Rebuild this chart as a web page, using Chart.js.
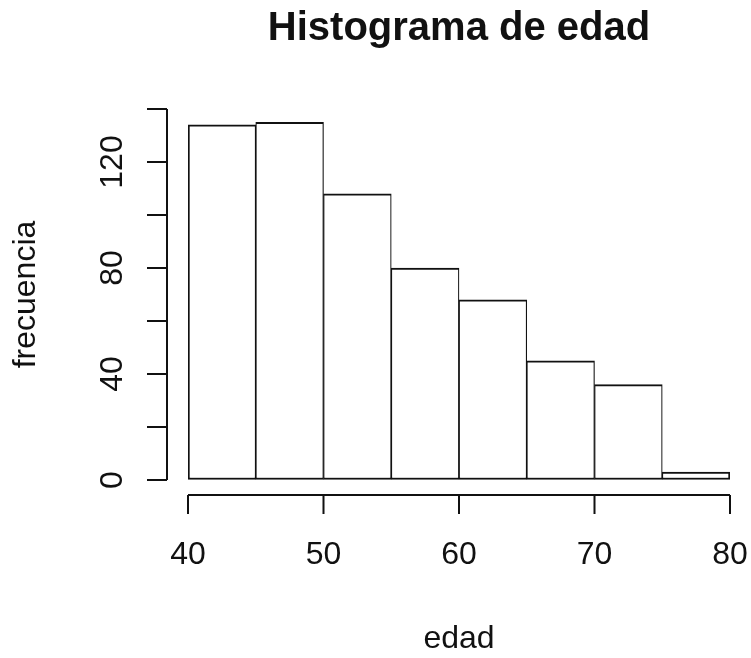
<!DOCTYPE html>
<html>
<head>
<meta charset="utf-8">
<title>Histograma de edad</title>
<script src="https://cdn.jsdelivr.net/npm/chart.js@4/dist/chart.umd.min.js"></script>
<style>
  body { margin: 0; background: #fff; }
  #wrap { width: 751px; height: 658px; }
</style>
</head>
<body>
<div id="wrap"><canvas id="myChart" width="751" height="658"></canvas></div>
<script>
// bin edges 40..80, width 5
const binStarts = [40, 45, 50, 55, 60, 65, 70, 75];
const binWidth = 5;
const counts = [134, 135, 108, 80, 68, 45, 36, 3];
const xTicks = [40, 50, 60, 70, 80];
const yTicks = [0, 20, 40, 60, 80, 100, 120, 140];
const yLabelled = [0, 40, 80, 120];

const font = 'Liberation Sans, Arial, sans-serif';
const ink = '#111';

// R style detached axes, drawn from the chart's own scales
const rAxes = {
  id: 'rAxes',
  afterDraw(chart) {
    const ctx = chart.ctx;
    const xs = chart.scales.x, ys = chart.scales.y;
    const area = chart.chartArea;
    const ax = area.left - 21;     // y axis line
    const ay = area.bottom + 15;   // x axis line
    ctx.save();
    ctx.strokeStyle = ink;
    ctx.lineWidth = 2;
    ctx.beginPath();
    ctx.moveTo(ax, ys.getPixelForValue(yTicks[0]));
    ctx.lineTo(ax, ys.getPixelForValue(yTicks[yTicks.length - 1]));
    yTicks.forEach(v => {
      const p = ys.getPixelForValue(v);
      ctx.moveTo(ax, p);
      ctx.lineTo(ax - 20, p);
    });
    ctx.moveTo(xs.getPixelForValue(xTicks[0]), ay);
    ctx.lineTo(xs.getPixelForValue(xTicks[xTicks.length - 1]), ay);
    xTicks.forEach(v => {
      const p = xs.getPixelForValue(v);
      ctx.moveTo(p, ay);
      ctx.lineTo(p, ay + 19);
    });
    ctx.stroke();
    ctx.restore();
  }
};

// invisible tick marks, only used to push the labels away from the plot
const hiddenGrid = len => ({
  display: true,
  drawOnChartArea: false,
  drawTicks: true,
  tickLength: len,
  color: 'rgba(0,0,0,0)'
});

const ctx = document.getElementById('myChart').getContext('2d');
new Chart(ctx, {
  type: 'bar',
  data: {
    datasets: [{
      label: 'frecuencia',
      data: binStarts.map((b, i) => ({ x: b + binWidth / 2, y: counts[i] })),
      backgroundColor: '#fff',
      borderColor: ink,
      borderWidth: c => ({
        top: 2, bottom: 2,
        left: c.dataIndex === 0 ? 2 : 1.2,
        right: c.dataIndex === counts.length - 1 ? 2 : 1.2
      }),
      borderSkipped: false,
      categoryPercentage: 1,
      barPercentage: 1
    }]
  },
  options: {
    responsive: false,
    animation: false,
    layout: { padding: { left: 0, right: 21, top: 0, bottom: 0 } },
    plugins: {
      legend: { display: false },
      tooltip: { enabled: false },
      title: {
        display: true,
        text: 'Histograma de edad',
        fullSize: false,
        color: ink,
        font: { family: font, size: 40, weight: 'bold', lineHeight: 1.2 },
        padding: { top: 5, bottom: 56 }
      }
    },
    scales: {
      x: {
        type: 'linear',
        min: 40, max: 80,
        offset: false,
        grid: hiddenGrid(55),
        border: { display: false },
        ticks: {
          stepSize: 10,
          color: ink,
          padding: 1,
          font: { family: font, size: 32 }
        },
        title: {
          display: true,
          text: 'edad',
          color: ink,
          font: { family: font, size: 32, lineHeight: 1.2 },
          padding: { top: 0, bottom: 0 }
        },
        afterFit: s => { s.height = 178; }
      },
      y: {
        min: 0, max: 140,
        grid: hiddenGrid(46),
        border: { display: false },
        ticks: {
          stepSize: 20,
          color: ink,
          minRotation: 90, maxRotation: 90,
          crossAlign: 'center',
          padding: 2,
          font: { family: font, size: 32 },
          callback: v => yLabelled.includes(v) ? String(v) : ''
        },
        title: {
          display: true,
          text: 'frecuencia',
          color: ink,
          font: { family: font, size: 32, lineHeight: 1.2 },
          padding: { top: 7, bottom: 0 }
        },
        afterFit: s => { s.width = 188; }
      }
    }
  },
  plugins: [rAxes]
});
</script>
</body>
</html>
